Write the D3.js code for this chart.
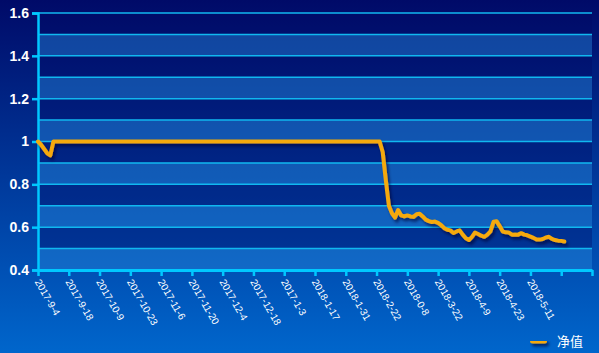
<!DOCTYPE html>
<html>
<head>
<meta charset="utf-8">
<script src="https://cdn.jsdelivr.net/npm/d3@7"></script>
<style>
  html, body { margin: 0; padding: 0; }
  svg { display: block; }
</style>
</head>
<body>
<svg width="599" height="353"></svg>
<script>
// tick labels on the x axis (one every 10 trading days, copied as shown)
const tickLabels = ['2017-9-4', '2017-9-18', '2017-10-9', '2017-10-23', '2017-11-6',
    '2017-11-20', '2017-12-4', '2017-12-18', '2017-1-3', '2018-1-17', '2018-1-31',
    '2018-2-22', '2018-0-8', '2018-3-22', '2018-4-9', '2018-4-23', '2018-5-11'];
const yTicks = [0.4, 0.6, 0.8, 1, 1.2, 1.4, 1.6];

// trading day index and net value
const dayIdx = [0, 1, 2, 3, 4, 5, 111, 112, 113, 114, 115, 116, 117, 118, 119, 120,
    121, 122, 123, 124, 125, 126, 127, 128, 129, 130, 131, 132, 133, 134, 135, 136,
    137, 138, 139, 140, 141, 142, 143, 144, 145, 146, 147, 148, 149, 150, 151, 152,
    153, 154, 155, 156, 157, 158, 159, 160, 161, 162, 163, 164, 165, 166, 167, 168,
    169, 170, 171];
const nav = [1, 0.985, 0.965, 0.945, 0.935, 1, 1, 0.95, 0.82, 0.7, 0.665, 0.645,
    0.68, 0.655, 0.65, 0.655, 0.65, 0.648, 0.66, 0.663, 0.65, 0.635, 0.628, 0.624,
    0.626, 0.62, 0.61, 0.595, 0.588, 0.585, 0.573, 0.58, 0.585, 0.565, 0.548, 0.54,
    0.555, 0.575, 0.568, 0.56, 0.555, 0.565, 0.58, 0.625, 0.628, 0.605, 0.58, 0.576,
    0.575, 0.565, 0.566, 0.565, 0.572, 0.565, 0.562, 0.556, 0.55, 0.542, 0.542,
    0.545, 0.552, 0.555, 0.545, 0.54, 0.537, 0.536, 0.533];
const seriesName = '净值';

const svg = d3.select('svg');
const W = 599, H = 353;
const LEFT = 38, RIGHT = 592, TOP = 13, BOTTOM = 270;

const defs = svg.append('defs');
const bg = defs.append('linearGradient')
    .attr('id', 'bg').attr('x1', 0).attr('y1', 0).attr('x2', 0).attr('y2', 1);
bg.append('stop').attr('offset', '0%').attr('stop-color', '#000a68');
bg.append('stop').attr('offset', '100%').attr('stop-color', '#0066cc');

const shadow = defs.append('filter').attr('id', 'shadow')
    .attr('filterUnits', 'userSpaceOnUse')
    .attr('x', 0).attr('y', 0).attr('width', W).attr('height', H);
shadow.append('feDropShadow')
    .attr('dx', 2).attr('dy', 3).attr('stdDeviation', 1.5)
    .attr('flood-color', '#000033').attr('flood-opacity', 0.6);

svg.append('rect').attr('width', W).attr('height', H).attr('fill', 'url(#bg)');

const x = d3.scaleLinear().domain([0, 180]).range([LEFT, RIGHT]);
const y = d3.scaleLinear().domain([0.4, 1.6]).range([BOTTOM, TOP]);

// alternating bands
const bandEdges = d3.range(4, 16).map(d => d / 10);
svg.append('g').selectAll('rect')
    .data(bandEdges)
    .join('rect')
    .attr('x', LEFT)
    .attr('y', d => y(d + 0.1))
    .attr('width', RIGHT - LEFT)
    .attr('height', d => y(d) - y(d + 0.1))
    .attr('fill', (d, i) => i % 2 === 0 ? 'rgba(40,140,225,0.42)' : 'rgba(0,10,100,0.35)');

// grid lines every 0.1
svg.append('g').selectAll('line')
    .data(d3.range(5, 17).map(d => d / 10))
    .join('line')
    .attr('x1', LEFT).attr('x2', RIGHT)
    .attr('y1', d => y(d)).attr('y2', d => y(d))
    .attr('stroke', '#10b8f0')
    .attr('stroke-width', 1.5);

// y axis
const yAxis = svg.append('g')
    .attr('transform', `translate(${LEFT},0)`)
    .call(d3.axisLeft(y).tickValues(yTicks).tickSize(6).tickPadding(3)
        .tickFormat(d3.format('~g')));
yAxis.select('.domain').attr('stroke', '#00c8ff').attr('stroke-width', 2.5);
yAxis.selectAll('.tick line').attr('stroke', '#00c8ff').attr('stroke-width', 2.5);
yAxis.selectAll('text')
    .attr('fill', '#fff')
    .style('font-family', '"Liberation Sans", Arial, sans-serif')
    .style('font-size', '14px')
    .style('font-weight', 'bold');

// x axis
const xTicks = d3.range(0, 181, 10);
const xAxis = svg.append('g')
    .attr('transform', `translate(0,${BOTTOM})`)
    .call(d3.axisBottom(x).tickValues(xTicks).tickSizeInner(6).tickSizeOuter(0)
        .tickFormat((d, i) => tickLabels[i] || ''));
xAxis.select('.domain').attr('stroke', '#00c8ff').attr('stroke-width', 3);
xAxis.selectAll('.tick line').attr('stroke', '#00c8ff').attr('stroke-width', 2.5);
xAxis.selectAll('text')
    .attr('fill', '#fff')
    .attr('text-anchor', 'start')
    .attr('dy', '0.35em')
    .attr('transform', 'translate(-1,10) rotate(60)')
    .attr('x', 0).attr('y', 0)
    .style('font-family', '"Liberation Sans", Arial, sans-serif')
    .style('font-size', '10px');

// line
const line = d3.line()
    .x((d, i) => x(dayIdx[i]))
    .y(d => y(d));

svg.append('path')
    .datum(nav)
    .attr('d', line)
    .attr('fill', 'none')
    .attr('stroke', '#f5a90c')
    .attr('stroke-width', 4)
    .attr('stroke-linejoin', 'round')
    .attr('stroke-linecap', 'round')
    .attr('filter', 'url(#shadow)');

// legend
const legend = svg.append('g').attr('transform', 'translate(530,341)');
legend.append('rect')
    .attr('x', 0).attr('y', -2.5).attr('width', 17).attr('height', 5).attr('rx', 2.5)
    .attr('fill', '#f5a90c')
    .attr('filter', 'url(#shadow)');
legend.append('text')
    .text(seriesName)
    .attr('x', 27).attr('y', 0).attr('dy', '0.36em')
    .attr('fill', '#fff')
    .style('font-family', '"Noto Sans CJK SC", sans-serif')
    .style('font-size', '13px');
</script>
</body>
</html>
